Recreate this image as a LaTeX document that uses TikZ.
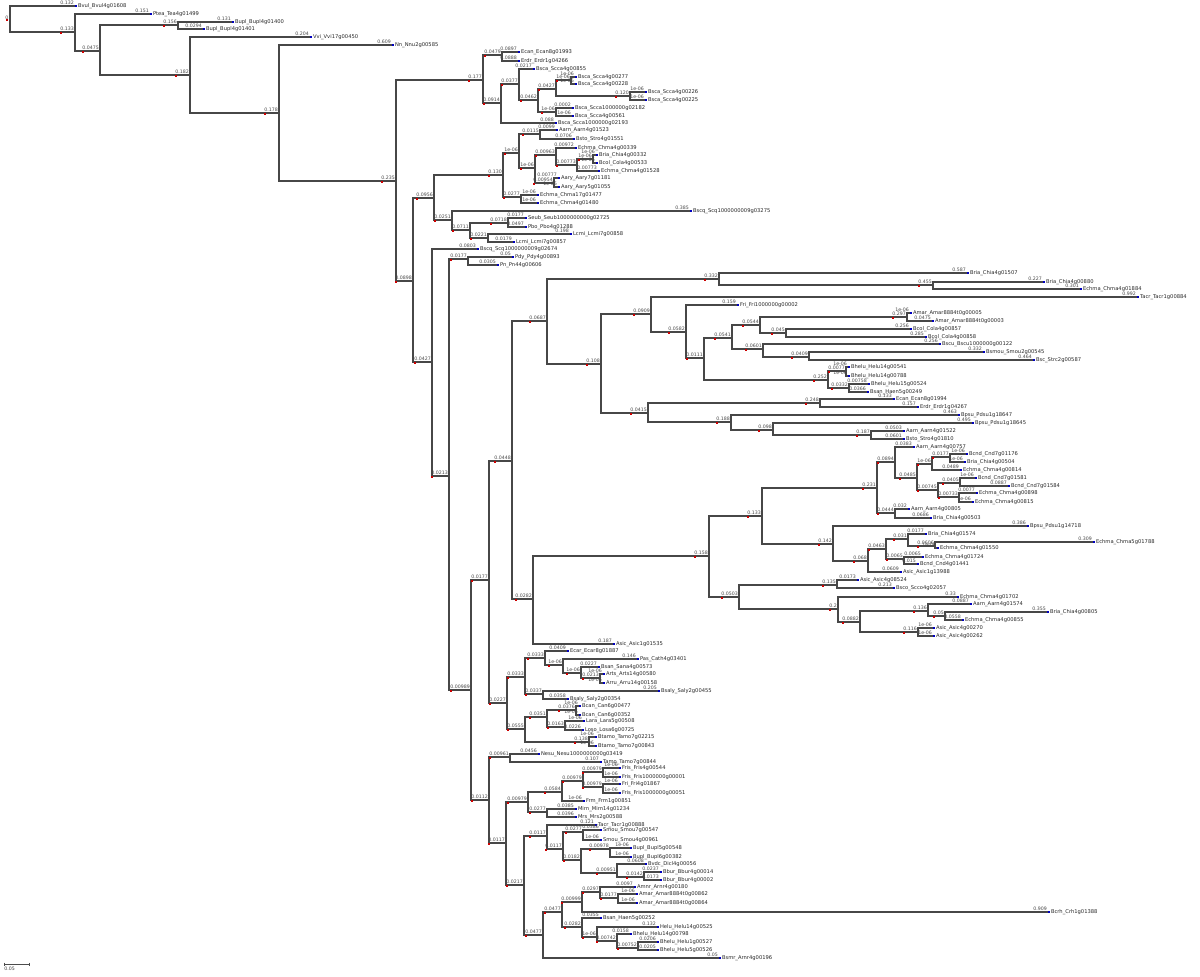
\documentclass[tikz,border=0pt]{standalone}
\usepackage{fontspec}
\newfontfamily\tf{DejaVu Sans}
\newcommand\Nd[3]{\coordinate (#1) at (#2,#3);}
\newcommand\Lf[4]{\coordinate (#1) at (#2,#3);\node[leaf] (#1t) at (#1) {#4};\fill[leafmark] (#1) ++(-0.5,-1) rectangle ++(2.5,2);}
\newcommand\Ed[3]{\draw[br] (#1) |- (#2) node[bl] (#2l) {#3};\fill[nodemark] (#2l.south west) ++(1,1) rectangle ++(1.5,1.5);\fill[nodemark] (#2) ++(-0.7,-0.7) rectangle ++(1.4,1.4);}
\newcommand\El[3]{\draw[br] (#1) |- (#2) node[bl] (#2l) {#3};}
\begin{document}
\begin{tikzpicture}[x=0.5pt,y=-0.5pt,
 br/.style={draw=black!72, line width=0.8pt},
 bl/.style={anchor=south east, inner sep=0.15pt, yshift=0.35pt, font=\tf\fontsize{2.35}{2.5}\selectfont, text=black!72},
 leaf/.style={anchor=west, inner sep=0pt, xshift=1.3pt, font=\tf\fontsize{2.6}{2.8}\selectfont, text=black!85},
 leafmark/.style={fill=blue!75!black},
 nodemark/.style={fill=red!80!black}]
\useasboundingbox (0,0) rectangle (1200,976);
% internal nodes
\Nd{R}{10}{19}\Nd{N1}{75}{32}\Nd{N2}{100}{51}\Nd{N3}{178}{25}\Nd{N4}{190}{75}
\Nd{N5}{279}{113}\Nd{N6}{396}{181}\Nd{N7}{483}{80}\Nd{N8}{413}{281}\Nd{N9}{502}{55}
\Nd{N10}{501}{103}\Nd{N11}{519}{84}\Nd{N12}{538}{100}\Nd{N13}{556}{89}\Nd{N14}{556}{112}
\Nd{N15}{571}{80}\Nd{N16}{630}{96}\Nd{N17}{434}{198}\Nd{N18}{432}{362}\Nd{N19}{503}{175}
\Nd{N20}{452}{220}\Nd{N21}{519}{153}\Nd{N22}{521}{197}\Nd{N23}{540}{134}\Nd{N24}{535}{168}
\Nd{N25}{556}{155}\Nd{N26}{554}{183}\Nd{N27}{577}{165}\Nd{N28}{593}{159}\Nd{N29}{470}{230}
\Nd{N30}{508}{223}\Nd{N31}{488}{238}\Nd{N32}{449}{476}\Nd{N33}{468}{259}\Nd{N34}{471}{690}
\Nd{N35}{489}{580}\Nd{N36}{489}{800}\Nd{N37}{512}{461}\Nd{N38}{507}{703}\Nd{N39}{547}{321}
\Nd{N40}{533}{599}\Nd{N41}{719}{279}\Nd{N42}{601}{364}\Nd{N43}{933}{285}\Nd{N44}{651}{314}
\Nd{N45}{648}{413}\Nd{N46}{686}{332}\Nd{N47}{704}{358}\Nd{N48}{732}{338}\Nd{N49}{828}{380}
\Nd{N50}{760}{325}\Nd{N51}{763}{349}\Nd{N52}{907}{317}\Nd{N53}{786}{333}\Nd{N54}{809}{357}
\Nd{N55}{846}{371}\Nd{N56}{849}{388}\Nd{N57}{820}{403}\Nd{N58}{731}{422}\Nd{N59}{773}{430}
\Nd{N60}{871}{435}\Nd{N61}{709}{556}\Nd{N62}{762}{516}\Nd{N63}{739}{597}\Nd{N64}{877}{488}
\Nd{N65}{833}{544}\Nd{N66}{895}{462}\Nd{N67}{895}{513}\Nd{N68}{917}{478}\Nd{N69}{932}{464}
\Nd{N70}{938}{490}\Nd{N71}{950}{457}\Nd{N72}{960}{483}\Nd{N73}{959}{497}\Nd{N74}{868}{561}
\Nd{N75}{886}{549}\Nd{N76}{908}{539}\Nd{N77}{904}{559}\Nd{N78}{935}{546}\Nd{N79}{837}{585}
\Nd{N80}{838}{609}\Nd{N81}{860}{622}\Nd{N82}{928}{611}\Nd{N83}{918}{632}\Nd{N84}{945}{616}
\Nd{N85}{525}{677}\Nd{N86}{525}{729}\Nd{N87}{545}{658}\Nd{N88}{543}{694}\Nd{N89}{563}{665}
\Nd{N90}{581}{673}\Nd{N91}{600}{678}\Nd{N92}{547}{717}\Nd{N93}{589}{742}\Nd{N94}{576}{710}
\Nd{N95}{565}{727}\Nd{N96}{510}{757}\Nd{N97}{506}{843}\Nd{N98}{528}{802}\Nd{N99}{524}{885}
\Nd{N100}{562}{792}\Nd{N101}{547}{812}\Nd{N102}{583}{781}\Nd{N103}{603}{772}\Nd{N104}{603}{787}
\Nd{N105}{547}{836}\Nd{N106}{543}{935}\Nd{N107}{563}{849}\Nd{N108}{583}{832}\Nd{N109}{581}{860}
\Nd{N110}{610}{849}\Nd{N111}{617}{873}\Nd{N112}{644}{877}\Nd{N113}{562}{912}\Nd{N114}{582}{902}
\Nd{N115}{582}{927}\Nd{N116}{600}{892}\Nd{N117}{618}{898}\Nd{N118}{597}{937}\Nd{N119}{617}{941}
\Nd{N120}{638}{948}
% leaves
\Lf{L1}{75}{6}{Bvul\_Bvul4g01608}
\Lf{L2}{150}{14}{Ptea\_Tea4g01499}
\Lf{L3}{232}{22}{Bupl\_Bupl4g01400}
\Lf{L4}{203}{29}{Bupl\_Bupl4g01401}
\Lf{L5}{310}{37}{Vvi\_Vvi17g00450}
\Lf{L6}{392}{45}{Nn\_Nnu2g00585}
\Lf{L7}{518}{52}{Ecan\_Ecan8g01993}
\Lf{L8}{518}{61}{Erdr\_Erdr1g04266}
\Lf{L9}{555}{123}{Bsca\_Scca1000000g02193}
\Lf{L10}{533}{69}{Bsca\_Scca4g00855}
\Lf{L11}{575}{77}{Bsca\_Scca4g00277}
\Lf{L12}{575}{84}{Bsca\_Scca4g00228}
\Lf{L13}{645}{92}{Bsca\_Scca4g00226}
\Lf{L14}{645}{100}{Bsca\_Scca4g00225}
\Lf{L15}{572}{108}{Bsca\_Scca1000000g02182}
\Lf{L16}{572}{116}{Bsca\_Scca4g00561}
\Lf{L17}{556}{130}{Aarn\_Aarn4g01523}
\Lf{L18}{573}{139}{Bsto\_Stro4g01551}
\Lf{L19}{575}{148}{Echma\_Chma4g00339}
\Lf{L20}{598}{171}{Echma\_Chma4g01528}
\Lf{L21}{596}{155}{Bria\_Chia4g00332}
\Lf{L22}{596}{163}{Bcol\_Cola4g00533}
\Lf{L23}{558}{178}{Aary\_Aary7g01181}
\Lf{L24}{558}{187}{Aary\_Aary5g01055}
\Lf{L25}{537}{195}{Echma\_Chma17g01477}
\Lf{L26}{537}{203}{Echma\_Chma4g01480}
\Lf{L27}{690}{211}{Bscq\_Scq1000000009g03275}
\Lf{L28}{525}{218}{Seub\_Seub1000000000g02725}
\Lf{L29}{525}{227}{Pbo\_Pbo4g01288}
\Lf{L30}{570}{234}{Lcmi\_Lcmi7g00858}
\Lf{L31}{513}{242}{Lcmi\_Lcmi7g00857}
\Lf{L32}{477}{249}{Bscq\_Scq1000000009g02674}
\Lf{L33}{512}{257}{Pdy\_Pdy4g00893}
\Lf{L34}{497}{265}{Pn\_Pn44g00606}
\Lf{L35}{967}{273}{Bria\_Chia4g01507}
\Lf{L36}{1043}{282}{Bria\_Chia4g00880}
\Lf{L37}{1080}{289}{Echma\_Chma4g01884}
\Lf{L38}{1137}{297}{Tacr\_Tacr1g00884}
\Lf{L39}{737}{305}{Fri\_Fri1000000g00002}
\Lf{L40}{910}{313}{Amar\_Amar8884t0g00005}
\Lf{L41}{932}{321}{Amar\_Amar8884t0g00003}
\Lf{L42}{910}{329}{Bcol\_Cola4g00857}
\Lf{L43}{925}{337}{Bcol\_Cola4g00858}
\Lf{L44}{939}{344}{Bscu\_Bscu1000000g00122}
\Lf{L45}{983}{352}{Bsmou\_Smou2g00545}
\Lf{L46}{1033}{360}{Bsc\_Strc2g00587}
\Lf{L47}{848}{367}{Bhelu\_Helu14g00541}
\Lf{L48}{848}{376}{Bhelu\_Helu14g00788}
\Lf{L49}{868}{384}{Bhelu\_Helu15g00524}
\Lf{L50}{867}{392}{Bsan\_Haen5g00249}
\Lf{L51}{893}{399}{Ecan\_Ecan8g01994}
\Lf{L52}{917}{407}{Erdr\_Erdr1g04267}
\Lf{L53}{958}{415}{Bpsu\_Pdsu1g18647}
\Lf{L54}{972}{423}{Bpsu\_Pdsu1g18645}
\Lf{L55}{903}{431}{Aarn\_Aarn4g01522}
\Lf{L56}{903}{439}{Bsto\_Stro4g01810}
\Lf{L57}{613}{644}{Asic\_Asic1g01535}
\Lf{L58}{913}{447}{Aarn\_Aarn4g00757}
\Lf{L59}{960}{470}{Echma\_Chma4g00814}
\Lf{L60}{966}{454}{Bcnd\_Cnd7g01176}
\Lf{L61}{964}{462}{Bria\_Chia4g00504}
\Lf{L62}{975}{478}{Bcnd\_Cnd7g01581}
\Lf{L63}{1008}{486}{Bcnd\_Cnd7g01584}
\Lf{L64}{976}{493}{Echma\_Chma4g00898}
\Lf{L65}{972}{502}{Echma\_Chma4g00815}
\Lf{L66}{908}{509}{Aarn\_Aarn4g00805}
\Lf{L67}{930}{518}{Bria\_Chia4g00503}
\Lf{L68}{1027}{526}{Bpsu\_Pdsu1g14718}
\Lf{L69}{900}{572}{Asic\_Asic1g13988}
\Lf{L70}{925}{534}{Bria\_Chia4g01574}
\Lf{L71}{1093}{542}{Echma\_Chma5g01788}
\Lf{L72}{937}{548}{Echma\_Chma4g01550}
\Lf{L73}{922}{557}{Echma\_Chma4g01724}
\Lf{L74}{917}{564}{Bcnd\_Cnd4g01441}
\Lf{L75}{857}{580}{Asic\_Asic4g08524}
\Lf{L76}{893}{588}{Bsco\_Scco4g02057}
\Lf{L77}{957}{597}{Echma\_Chma4g01702}
\Lf{L78}{970}{604}{Aarn\_Aarn4g01574}
\Lf{L79}{1047}{612}{Bria\_Chia4g00805}
\Lf{L80}{962}{620}{Echma\_Chma4g00855}
\Lf{L81}{933}{628}{Asic\_Asic4g00270}
\Lf{L82}{933}{636}{Asic\_Asic4g00262}
\Lf{L83}{567}{651}{Ecar\_Ecar8g01887}
\Lf{L84}{637}{659}{Pas\_Cath4g03401}
\Lf{L85}{598}{667}{Bsan\_Sana4g00573}
\Lf{L86}{603}{674}{Arts\_Arts14g00580}
\Lf{L87}{603}{683}{Arru\_Arru14g00158}
\Lf{L88}{658}{691}{Bsaly\_Saly2g00455}
\Lf{L89}{567}{699}{Bsaly\_Saly2g00354}
\Lf{L90}{579}{706}{Bcan\_Can6g00477}
\Lf{L91}{579}{715}{Bcan\_Can6g00352}
\Lf{L92}{583}{721}{Lara\_Lara5g00508}
\Lf{L93}{582}{730}{Loso\_Losa6g00725}
\Lf{L94}{595}{737}{Btamo\_Tamo7g02215}
\Lf{L95}{595}{746}{Btamo\_Tamo7g00843}
\Lf{L96}{538}{754}{Nesu\_Nesu1000000000g03419}
\Lf{L97}{600}{762}{Tamo\_Tamo7g00844}
\Lf{L98}{583}{801}{Frm\_Frm1g00851}
\Lf{L99}{619}{768}{Fris\_Fris4g00544}
\Lf{L100}{619}{777}{Fris\_Fris1000000g00001}
\Lf{L101}{619}{784}{Fri\_Fri4g01867}
\Lf{L102}{619}{793}{Fris\_Fris1000000g00051}
\Lf{L103}{575}{809}{Mirn\_Mirn14g01234}
\Lf{L104}{575}{817}{Mrs\_Mrs2g00588}
\Lf{L105}{595}{825}{Tacr\_Tacr1g00888}
\Lf{L106}{600}{830}{Smou\_Smou7g00547}
\Lf{L107}{600}{840}{Smou\_Smou4g00961}
\Lf{L108}{630}{848}{Bupl\_Bupl5g00548}
\Lf{L109}{630}{857}{Bupl\_Bupl6g00382}
\Lf{L110}{645}{864}{Bvdc\_Dicl4g00056}
\Lf{L111}{660}{872}{Bbur\_Bbur4g00014}
\Lf{L112}{660}{880}{Bbur\_Bbur4g00002}
\Lf{L113}{719}{958}{Bsmr\_Arnr4g00196}
\Lf{L114}{1048}{912}{Bcrh\_Crh1g01388}
\Lf{L115}{634}{887}{Amnr\_Arnr4g00180}
\Lf{L116}{636}{894}{Amar\_Amar8884t0g00862}
\Lf{L117}{636}{903}{Amar\_Amar8884t0g00864}
\Lf{L118}{600}{918}{Bsan\_Haen5g00252}
\Lf{L119}{657}{927}{Helu\_Helu14g00525}
\Lf{L120}{630}{934}{Bhelu\_Helu14g00798}
\Lf{L121}{657}{942}{Bhelu\_Helu1g00527}
\Lf{L122}{657}{950}{Bhelu\_Helu5g00526}
% edges
\El{R}{L1}{0.132}\Ed{R}{N1}{0.133}
\El{N1}{L2}{0.151}\Ed{N1}{N2}{0.0475}
\Ed{N2}{N3}{0.156}\Ed{N2}{N4}{0.182}
\El{N3}{L3}{0.131}\El{N3}{L4}{0.0294}
\El{N4}{L5}{0.204}\Ed{N4}{N5}{0.178}
\El{N5}{L6}{0.609}\Ed{N5}{N6}{0.235}
\Ed{N6}{N7}{0.177}\Ed{N6}{N8}{0.0898}
\Ed{N7}{N9}{0.0479}\Ed{N7}{N10}{0.0914}
\El{N9}{L7}{0.0897}\El{N9}{L8}{0.0888}
\Ed{N10}{N11}{0.0377}\El{N10}{L9}{0.088}
\El{N11}{L10}{0.0217}\Ed{N11}{N12}{0.0462}
\Ed{N12}{N13}{0.0427}\Ed{N12}{N14}{1e-06}
\Ed{N13}{N15}{1e-06}\Ed{N13}{N16}{0.120}
\El{N15}{L11}{1e-06}\El{N15}{L12}{1e-06}
\El{N16}{L13}{1e-06}\El{N16}{L14}{1e-06}
\El{N14}{L15}{0.0002}\El{N14}{L16}{1e-06}
\Ed{N8}{N17}{0.0956}\Ed{N8}{N18}{0.0427}
\Ed{N17}{N19}{0.130}\Ed{N17}{N20}{0.0251}
\Ed{N19}{N21}{1e-06}\Ed{N19}{N22}{0.0277}
\Ed{N21}{N23}{0.0115}\Ed{N21}{N24}{1e-06}
\El{N23}{L17}{0.0099}\El{N23}{L18}{0.0706}
\Ed{N24}{N25}{0.00963}\Ed{N24}{N26}{0.00954}
\El{N25}{L19}{0.00972}\Ed{N25}{N27}{0.00773}
\Ed{N27}{N28}{1e-06}\El{N27}{L20}{0.00773}
\El{N28}{L21}{1e-06}\El{N28}{L22}{1e-06}
\El{N26}{L23}{0.00777}\El{N26}{L24}{1e-06}
\El{N22}{L25}{1e-06}\El{N22}{L26}{1e-06}
\El{N20}{L27}{0.385}\Ed{N20}{N29}{0.0711}
\Ed{N29}{N30}{0.0718}\Ed{N29}{N31}{0.0221}
\El{N30}{L28}{0.0177}\El{N30}{L29}{0.0497}
\El{N31}{L30}{0.198}\El{N31}{L31}{0.0179}
\El{N18}{L32}{0.0803}\Ed{N18}{N32}{0.0213}
\Ed{N32}{N33}{0.0177}\Ed{N32}{N34}{0.00989}
\El{N33}{L33}{0.05}\El{N33}{L34}{0.0305}
\Ed{N34}{N35}{0.0177}\Ed{N34}{N36}{0.0112}
\Ed{N35}{N37}{0.0448}\Ed{N35}{N38}{0.0227}
\Ed{N37}{N39}{0.0687}\Ed{N37}{N40}{0.0282}
\Ed{N39}{N41}{0.332}\Ed{N39}{N42}{0.108}
\El{N41}{L35}{0.587}\Ed{N41}{N43}{0.455}
\El{N43}{L36}{0.227}\El{N43}{L37}{0.301}
\Ed{N42}{N44}{0.0909}\Ed{N42}{N45}{0.0415}
\El{N44}{L38}{0.992}\Ed{N44}{N46}{0.0582}
\El{N46}{L39}{0.159}\Ed{N46}{N47}{0.0111}
\Ed{N47}{N48}{0.0541}\Ed{N47}{N49}{0.252}
\Ed{N48}{N50}{0.0544}\Ed{N48}{N51}{0.0601}
\Ed{N50}{N52}{0.297}\Ed{N50}{N53}{0.045}
\El{N52}{L40}{1e-06}\El{N52}{L41}{0.0475}
\El{N53}{L42}{0.256}\El{N53}{L43}{0.285}
\El{N51}{L44}{0.256}\Ed{N51}{N54}{0.0409}
\El{N54}{L45}{0.332}\El{N54}{L46}{0.464}
\Ed{N49}{N55}{0.0077}\Ed{N49}{N56}{0.0332}
\El{N55}{L47}{1e-06}\El{N55}{L48}{1e-06}
\El{N56}{L49}{0.00758}\El{N56}{L50}{0.0366}
\Ed{N45}{N57}{0.248}\Ed{N45}{N58}{0.188}
\El{N57}{L51}{0.133}\El{N57}{L52}{0.157}
\El{N58}{L53}{0.463}\Ed{N58}{N59}{0.098}
\El{N59}{L54}{0.495}\Ed{N59}{N60}{0.187}
\El{N60}{L55}{0.0503}\El{N60}{L56}{0.0601}
\Ed{N40}{N61}{0.158}\El{N40}{L57}{0.187}
\Ed{N61}{N62}{0.133}\Ed{N61}{N63}{0.0503}
\Ed{N62}{N64}{0.231}\Ed{N62}{N65}{0.142}
\Ed{N64}{N66}{0.0894}\Ed{N64}{N67}{0.0444}
\El{N66}{L58}{0.0383}\Ed{N66}{N68}{0.0485}
\Ed{N68}{N69}{1e-06}\Ed{N68}{N70}{0.00745}
\Ed{N69}{N71}{0.0177}\El{N69}{L59}{0.0489}
\El{N71}{L60}{1e-06}\El{N71}{L61}{1e-06}
\Ed{N70}{N72}{0.0405}\Ed{N70}{N73}{0.00733}
\El{N72}{L62}{1e-06}\El{N72}{L63}{0.0887}
\El{N73}{L64}{0.0077}\El{N73}{L65}{1e-06}
\El{N67}{L66}{0.032}\El{N67}{L67}{0.0686}
\El{N65}{L68}{0.386}\Ed{N65}{N74}{0.068}
\Ed{N74}{N75}{0.0463}\El{N74}{L69}{0.0609}
\Ed{N75}{N76}{0.031}\Ed{N75}{N77}{0.0065}
\El{N76}{L70}{0.0177}\Ed{N76}{N78}{0.0606}
\El{N78}{L71}{0.309}\El{N78}{L72}{1e-06}
\El{N77}{L73}{0.0065}\El{N77}{L74}{0.015}
\Ed{N63}{N79}{0.135}\Ed{N63}{N80}{0.2}
\El{N79}{L75}{0.0173}\El{N79}{L76}{0.213}
\El{N80}{L77}{0.33}\Ed{N80}{N81}{0.0882}
\Ed{N81}{N82}{0.136}\Ed{N81}{N83}{0.116}
\El{N82}{L78}{0.0887}\Ed{N82}{N84}{0.05}
\El{N84}{L79}{0.355}\El{N84}{L80}{0.0558}
\El{N83}{L81}{1e-06}\El{N83}{L82}{1e-06}
\Ed{N38}{N85}{0.0333}\Ed{N38}{N86}{0.0555}
\Ed{N85}{N87}{0.0333}\Ed{N85}{N88}{0.0337}
\El{N87}{L83}{0.0409}\Ed{N87}{N89}{1e-06}
\El{N89}{L84}{0.146}\Ed{N89}{N90}{1e-06}
\El{N90}{L85}{0.0227}\Ed{N90}{N91}{0.0213}
\El{N91}{L86}{1e-06}\El{N91}{L87}{1e-06}
\El{N88}{L88}{0.205}\El{N88}{L89}{0.0358}
\Ed{N86}{N92}{0.0351}\Ed{N86}{N93}{0.138}
\Ed{N92}{N94}{0.0376}\Ed{N92}{N95}{0.0163}
\El{N94}{L90}{1e-06}\El{N94}{L91}{1e-06}
\El{N95}{L92}{1e-06}\El{N95}{L93}{0.0226}
\El{N93}{L94}{1e-06}\El{N93}{L95}{1e-06}
\Ed{N36}{N96}{0.00961}\Ed{N36}{N97}{0.0117}
\El{N96}{L96}{0.0456}\El{N96}{L97}{0.107}
\Ed{N97}{N98}{0.00979}\Ed{N97}{N99}{0.0217}
\Ed{N98}{N100}{0.0584}\Ed{N98}{N101}{0.0277}
\Ed{N100}{N102}{0.00979}\El{N100}{L98}{1e-06}
\Ed{N102}{N103}{0.00979}\Ed{N102}{N104}{0.00979}
\El{N103}{L99}{1e-06}\El{N103}{L100}{1e-06}
\El{N104}{L101}{1e-06}\El{N104}{L102}{1e-06}
\El{N101}{L103}{0.0385}\El{N101}{L104}{0.0396}
\Ed{N99}{N105}{0.0117}\Ed{N99}{N106}{0.0477}
\El{N105}{L105}{0.121}\Ed{N105}{N107}{0.0117}
\Ed{N107}{N108}{0.0277}\Ed{N107}{N109}{0.0182}
\El{N108}{L106}{0.0386}\El{N108}{L107}{1e-06}
\Ed{N109}{N110}{0.00978}\Ed{N109}{N111}{0.00951}
\El{N110}{L108}{1e-06}\El{N110}{L109}{1e-06}
\El{N111}{L110}{0.0608}\Ed{N111}{N112}{0.0142}
\El{N112}{L111}{0.0237}\El{N112}{L112}{0.0173}
\Ed{N106}{N113}{0.0477}\El{N106}{L113}{0.05}
\Ed{N113}{N114}{0.00999}\Ed{N113}{N115}{0.0282}
\Ed{N114}{N116}{0.0297}\El{N114}{L114}{0.909}
\El{N116}{L115}{0.0097}\Ed{N116}{N117}{0.0177}
\El{N117}{L116}{1e-06}\El{N117}{L117}{1e-06}
\El{N115}{L118}{0.0355}\Ed{N115}{N118}{1e-06}
\El{N118}{L119}{0.132}\Ed{N118}{N119}{0.00742}
\El{N119}{L120}{0.0158}\Ed{N119}{N120}{0.00752}
\El{N120}{L121}{0.0206}\El{N120}{L122}{0.0205}
% root label
\node[bl, anchor=east] (rootlbl) at (9,18) {0};
\fill[nodemark] (R) ++(-4,0) rectangle ++(1.5,1.5);
% scale bar
\coordinate (sbA) at (4,964);
\coordinate (sbB) at (29,964);
\draw[black!70, line width=0.35pt] (sbA) -- (sbB);
\draw[black!70, line width=0.35pt] (sbA) ++(0,-1.5) -- ++(0,3);
\draw[black!70, line width=0.35pt] (sbB) ++(0,-1.5) -- ++(0,3);
\node[anchor=north west, inner sep=0pt, font=\tf\fontsize{2.35}{2.5}\selectfont, text=black!75] (sblbl) at (4,967) {0.05};
\end{tikzpicture}
\end{document}
